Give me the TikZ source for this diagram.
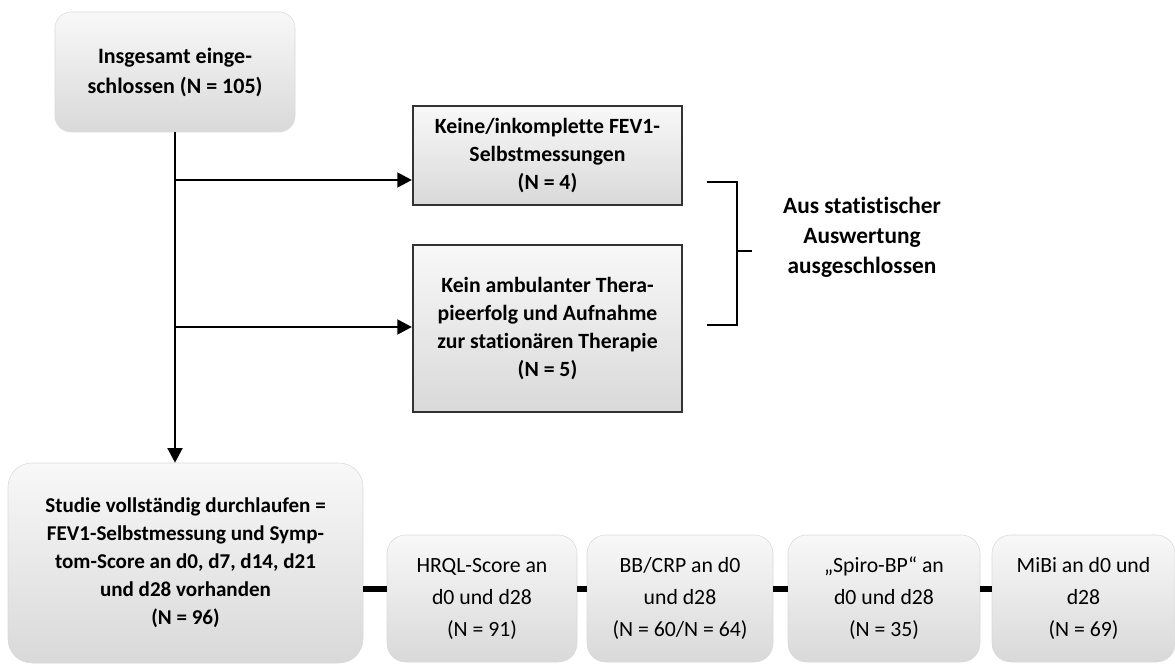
\documentclass[tikz,border=0pt]{standalone}
\usepackage{fontspec}
\setmainfont[Ligatures=NoCommon]{Carlito}
\usepackage{xcolor}
\usetikzlibrary{arrows.meta,positioning,calc}
\definecolor{ink}{HTML}{000000}
\definecolor{boxtop}{HTML}{F8F8F8}
\definecolor{boxbot}{HTML}{D9D9D9}
\definecolor{frameink}{HTML}{333333}
\tikzset{
  softcard/.style={top color=boxtop,bottom color=boxbot,draw=gray!30,line width=0.4pt,
                   rounded corners=12pt,align=center,inner sep=0pt,
                   font=\fontsize{16.5}{22.5}\selectfont\bfseries},
  framecard/.style={top color=boxtop,bottom color=boxbot,draw=frameink,line width=1.6pt,
                    align=center,inner sep=0pt,
                    font=\fontsize{16.3}{20.8}\selectfont\bfseries},
  smallcard/.style={top color=boxtop,bottom color=boxbot,draw=gray!30,line width=0.4pt,
                    rounded corners=14pt,align=center,inner sep=0pt,
                    minimum height=95.25pt,font=\fontsize{16.3}{24}\selectfont},
  plaintext/.style={align=center,inner sep=0pt,font=\fontsize{17.5}{22.5}\selectfont\bfseries},
  trunkarr/.style={-{Triangle[length=11pt,width=11pt]},line width=2.2pt,draw=ink},
  linkbar/.style={line width=4.5pt,draw=ink},
  bracketline/.style={line width=1.5pt,draw=ink}
}

\begin{document}
\begin{tikzpicture}[x=0.75pt,y=-0.75pt]
    \path[use as bounding box] (0,0) rectangle (1175,670);
    % upper part
    \node[softcard,minimum width=180pt,minimum height=90pt] (n_total) at (175,72)
      {Insgesamt einge-\\schlossen (N = 105)};
    \node[framecard,minimum width=201.75pt,minimum height=74.25pt] (n_fev) at (547.5,155.5)
      {Keine/inkomplette FEV1-\\Selbstmessungen\\(N = 4)};
    \node[framecard,minimum width=201.75pt,minimum height=125.25pt] (n_ther) at (547.5,328.5)
      {Kein ambulanter Thera-\\pieerfolg und Aufnahme\\zur stationären Therapie\\(N = 5)};
    \node[plaintext] (n_excl) at (862,237)
      {Aus statistischer\\Auswertung\\ausgeschlossen};
    % lower row
    \node[softcard,rounded corners=18pt,minimum width=266.25pt,minimum height=150pt,
          font=\fontsize{15.8}{21}\selectfont\bfseries] (n_full) at (185.5,563)
      {Studie vollständig durchlaufen =\\FEV1-Selbstmessung und Symp-\\tom-Score an d0, d7, d14, d21\\und d28 vorhanden\\(N = 96)};
    \node[smallcard,minimum width=142.5pt] (n_hrql) at (482,598.5)
      {HRQL-Score an\\d0 und d28\\(N = 91)};
    \node[smallcard,minimum width=139.5pt] (n_bb) at (680,598.5)
      {BB/CRP an d0\\und d28\\(N = 60/N = 64)};
    \node[smallcard,minimum width=144pt] (n_spiro) at (884,598.5)
      {„Spiro-BP“ an\\d0 und d28\\(N = 35)};
    \node[smallcard,minimum width=137.25pt] (n_mibi) at (1083.5,598.5)
      {MiBi an d0 und\\d28\\(N = 69)};
    % arrows
    \coordinate (b_fev) at (176,180);
    \coordinate (b_ther) at (176,327);
    \draw[trunkarr] (n_total.south) -- (n_total.south |- n_full.north);
    \draw[trunkarr] (b_fev) -- (b_fev -| n_fev.west);
    \draw[trunkarr] (b_ther) -- (b_ther -| n_ther.west);
    % bracket
    \coordinate (br_top) at (707,182);
    \coordinate (br_bot) at (707,325);
    \coordinate (br_tick) at (752,251);
    \draw[bracketline] (br_top) -- (br_top -| 737,0) -- (br_bot -| 737,0) -- (br_bot);
    \draw[bracketline] (br_tick -| 737,0) -- (br_tick);
    % links between lower boxes
    \coordinate (row_y) at (0,589);
    \draw[linkbar] (n_full.east |- row_y) -- (n_hrql.west |- row_y);
    \draw[linkbar] (n_hrql.east |- row_y) -- (n_bb.west |- row_y);
    \draw[linkbar] (n_bb.east |- row_y) -- (n_spiro.west |- row_y);
    \draw[linkbar] (n_spiro.east |- row_y) -- (n_mibi.west |- row_y);
  \end{tikzpicture}
\end{document}
